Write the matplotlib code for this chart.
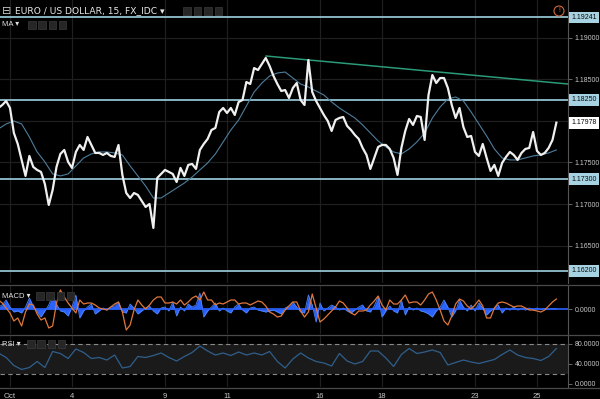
"""
EUR/USD 15 min - grafico estilo TradingView (precio, MA, MACD, RSI)
"""

import numpy as np
import matplotlib
matplotlib.use('Agg')
import matplotlib.pyplot as plt
from matplotlib.lines import Line2D
from matplotlib.patches import Rectangle, Ellipse

# ---- datos ----
# precio de cierre cada 3 horas (1/8 de dia habil), desde el 2 de octubre
price = [
    1.18154, 1.18190, 1.18238, 1.18154, 1.17854, 1.17722, 1.17530, 1.17338, 1.17578, 1.17446,
    1.17410, 1.17386, 1.17241, 1.16989, 1.17169, 1.17446, 1.17602, 1.17650, 1.17506, 1.17434,
    1.17626, 1.17710, 1.17650, 1.17806, 1.17710, 1.17614, 1.17614, 1.17590, 1.17614, 1.17578,
    1.17566, 1.17710, 1.17350, 1.17133, 1.17073, 1.17133, 1.17110, 1.17037, 1.16965, 1.17001,
    1.16713, 1.17314, 1.17362, 1.17410, 1.17386, 1.17362, 1.17265, 1.17434, 1.17338, 1.17470,
    1.17482, 1.17422, 1.17650, 1.17722, 1.17782, 1.17890, 1.17914, 1.18106, 1.18154, 1.18094,
    1.18154, 1.18070, 1.18226, 1.18250, 1.18466, 1.18442, 1.18634, 1.18610, 1.18682, 1.18755,
    1.18658, 1.18538, 1.18442, 1.18358, 1.18370, 1.18274, 1.18394, 1.18454, 1.18250, 1.18190,
    1.18730, 1.18346, 1.18238, 1.18154, 1.18070, 1.17998, 1.17878, 1.18010, 1.18034, 1.18046,
    1.17938, 1.17890, 1.17830, 1.17782, 1.17674, 1.17590, 1.17422, 1.17554, 1.17686, 1.17710,
    1.17710, 1.17662, 1.17554, 1.17350, 1.17674, 1.17878, 1.18022, 1.17950, 1.18058, 1.18046,
    1.17770, 1.18310, 1.18550, 1.18454, 1.18514, 1.18514, 1.18394, 1.18190, 1.18034, 1.18154,
    1.17926, 1.17806, 1.17818, 1.17626, 1.17578, 1.17722, 1.17554, 1.17398, 1.17470, 1.17338,
    1.17494, 1.17566, 1.17626, 1.17590, 1.17530, 1.17614, 1.17662, 1.17674, 1.17866, 1.17638,
    1.17590, 1.17614, 1.17674, 1.17770, 1.17978,
]

# media movil cada 6 horas (1/4 de dia)
ma = [
    1.17902, 1.17962, 1.17998, 1.17962, 1.17806, 1.17626, 1.17506, 1.17362, 1.17338, 1.17362,
    1.17458, 1.17554, 1.17602, 1.17626, 1.17626, 1.17614, 1.17590, 1.17458, 1.17338, 1.17217,
    1.17073, 1.17073, 1.17133, 1.17193, 1.17253, 1.17325, 1.17410, 1.17494, 1.17602, 1.17746,
    1.17890, 1.18010, 1.18178, 1.18346, 1.18454, 1.18538, 1.18574, 1.18586, 1.18514, 1.18442,
    1.18406, 1.18358, 1.18310, 1.18226, 1.18154, 1.18094, 1.18034, 1.17950, 1.17854, 1.17758,
    1.17686, 1.17626, 1.17602, 1.17662, 1.17746, 1.17854, 1.18034, 1.18166, 1.18262, 1.18286,
    1.18238, 1.18106, 1.17962, 1.17818, 1.17662, 1.17554, 1.17530, 1.17530, 1.17554, 1.17578,
    1.17590, 1.17614, 1.17650,
]

# MACD (en pips), misma frecuencia que el precio
macd_signal = [
    4.5, 3.0, 0.5, -2.0, -6.0, -4.5, -8.5, -1.5, 2.5, 2.0,
    -2.5, -5.5, -4.5, -9.5, -8.5, 3.0, 9.5, 6.0, 3.0, 0.5,
    -2.0, 4.5, 2.5, 3.0, 3.0, 2.0, 0.5, 0.0, -0.5, 1.0,
    2.5, 3.5, -1.5, -10.5, -8.0, -0.5, 4.5, 2.0, 0.0, 2.0,
    4.5, 6.0, 6.0, 3.0, 3.0, 3.5, 2.5, 4.5, 2.0, 3.5,
    5.5, 6.5, 4.5, 8.5, 4.5, 4.5, 2.0, 3.0, 2.5, 3.5,
    4.5, 4.5, 2.5, 3.0, 3.0, 2.0, 3.0, 4.0, 3.5, 1.5,
    -1.5, -2.5, -4.0, -3.5, -0.5, 1.5, 3.5, 3.5, -1.0, -4.0,
    -1.5, 7.5, 0.5, -6.5, -5.0, -3.0, -1.0, 1.0, 4.0, 3.0,
    0.5, -2.0, -3.0, -1.0, -1.0, -0.5, 2.0, 4.0, 6.5, 2.0,
    -0.5, 4.5, 2.5, 2.5, 4.5, 7.0, 3.0, 3.5, 3.5, 2.0,
    4.5, 7.5, 8.5, 4.5, -0.5, -6.0, -8.0, -3.5, 2.5, 5.0,
    4.0, 1.5, 0.0, 2.0, 4.5, 1.5, -4.5, -4.5, 0.5, 3.0,
    3.5, 3.0, 2.0, 1.0, 1.5, 1.5, 0.5, -0.5, -0.5, -1.0,
    -1.5, -0.5, 1.5, 3.5, 5.0,
]
macd_hist = [
    1.0, 2.0, 4.5, 1.0, -1.5, -1.0, -2.0, 1.0, 5.5, 1.5,
    -1.5, -4.0, -1.0, 2.0, 7.0, 2.5, -1.0, -1.5, -3.5, 1.0,
    7.0, -4.5, -1.0, 1.0, 2.5, -2.5, -1.0, 0.5, -0.5, 1.0,
    1.5, 3.5, -1.5, -2.0, 2.5, 0.5, -2.5, -1.0, 0.5, 1.5,
    -1.0, -2.5, 0.5, 1.0, -1.0, 3.5, -3.5, 1.0, -1.0, 2.5,
    1.0, 2.0, 8.0, -4.0, -1.0, 1.0, 3.0, -1.0, 0.5, -1.0,
    -2.0, 1.0, 2.5, -0.5, -2.0, 0.5, 1.0, -0.5, -1.0, -1.5,
    -1.0, -0.5, -1.5, -2.5, 0.5, 1.5, 3.5, 1.0, -1.5, -2.0,
    7.0, 2.0, -6.5, 3.0, -1.0, 0.5, 2.0, 1.0, -0.5, 0.5,
    -1.0, -2.0, -0.5, 1.0, 2.0, -1.0, -1.5, 1.5, 6.0, -4.0,
    -1.0, 1.5, -1.0, -2.0, 4.5, -3.0, 1.0, -0.5, 0.5, -1.0,
    -1.5, -2.5, -4.0, -1.0, 1.0, 4.5, 1.0, -4.0, -1.0, 4.5,
    1.0, -1.0, 2.0, -1.0, 3.0, 0.5, -3.0, -1.0, 0.5, 2.0,
    -2.0, 0.5, -0.5, 1.0, -0.5, 0.5, -0.5, 0.5, -0.5, 0.5,
    -0.3, 0.3, -0.3, 0.3, 0.3,
]

# RSI cada 6 horas
rsi = [
    62, 53, 37, 29, 33, 45, 33, 65, 61, 51,
    70, 63, 51, 53, 48, 58, 32, 35, 55, 53,
    57, 62, 53, 46, 55, 63, 76, 66, 58, 62,
    57, 64, 58, 62, 58, 65, 45, 32, 50, 62,
    52, 45, 42, 36, 61, 46, 40, 45, 66, 66,
    52, 35, 59, 71, 61, 64, 68, 63, 38, 43,
    48, 44, 41, 45, 49, 59, 68, 58, 53, 51,
    47, 55, 71,
]

levels = [1.19241, 1.18250, 1.17300, 1.16200]
last_price = 1.17978
trend_t = [8.26, 18.0]
trend_p = [1.18778, 1.18442]

day_ticks = [0, 2, 5, 7, 10, 12, 15, 17]
day_labels = ['Oct', '4', '9', '11', '16', '18', '23', '25']
price_ticks = [1.165, 1.170, 1.175, 1.180, 1.185, 1.190]

# tiempo en dias habiles (0 = 2 de octubre)
t_fine = -0.375 + np.arange(len(price)) / 8
t_coarse = -0.375 + np.arange(len(ma)) / 4

# ---- estilo ----
BG = '#000000'
GRID = '#1f1f1f'
TXT = '#c8c8c8'
LEVEL = '#93c1d1'
FONT = ['Liberation Sans', 'DejaVu Sans']
plt.rcParams['font.family'] = FONT

W, H = 600, 399


def fx(px):
    return px / W


def fy(py):
    return 1 - py / H


fig = plt.figure(figsize=(6, 3.99), dpi=100, facecolor=BG)
ax = fig.add_axes([0, fy(283), fx(568), 283 / H])
ax_m = fig.add_axes([0, fy(334), fx(568), 49 / H])
ax_r = fig.add_axes([0, fy(387), fx(568), 51 / H])

xlim = (-0.3226, 18.0)
for a in (ax, ax_m, ax_r):
    a.set_facecolor(BG)
    a.set_xlim(*xlim)
    for s in ('top', 'left', 'bottom'):
        a.spines[s].set_visible(False)
    a.spines['right'].set_color('#555555')
    a.spines['right'].set_linewidth(0.8)
    a.set_xticks(day_ticks)
    a.tick_params(axis='x', length=0, labelbottom=False)
    a.grid(axis='x', color=GRID, lw=0.9)
    a.yaxis.tick_right()
    a.tick_params(axis='y', colors='#777777', labelcolor=TXT, labelsize=5,
                  length=3, width=0.6, pad=2)
    a.set_axisbelow(True)

# ---- panel de precio ----
ax.set_ylim(1.16052, 1.19451)
ax.set_yticks(price_ticks)
# la etiqueta 1.18000 queda tapada por la del ultimo precio
ax.set_yticklabels(['' if abs(v - 1.18) < 1e-9 else f'{v:.5f}' for v in price_ticks])
ax.grid(axis='y', color=GRID, lw=0.9)

for lv in levels:
    ax.axhline(lv, color=LEVEL, lw=1.3, zorder=3)
    ax.text(1 + 3 / 568, lv, f'{lv:.5f}', transform=ax.get_yaxis_transform(),
            ha='left', va='center', fontsize=5, color='#0a0a0a', zorder=10,
            clip_on=False,
            bbox=dict(boxstyle='square,pad=0.35', fc='#a6d2e2', ec='none'))
ax.text(1 + 3 / 568, last_price, f'{last_price:.5f}', transform=ax.get_yaxis_transform(),
        ha='left', va='center', fontsize=5, color='#0a0a0a', zorder=10, clip_on=False,
        bbox=dict(boxstyle='square,pad=0.35', fc='#ffffff', ec='none'))

ax.plot(trend_t, trend_p, color='#2a9a78', lw=1.1, zorder=4)
ax.plot(t_coarse, ma, color='#4d7d9c', lw=0.8, zorder=4)
ax.plot(t_fine, price, color='#f0f0f0', lw=1.6, zorder=5)

# ---- MACD ----
ax_m.set_ylim(-12.5, 12)
ax_m.set_yticks([0])
ax_m.set_yticklabels(['0.0000'])
ax_m.fill_between(t_fine, 0, macd_hist, color='#2962ff', lw=0, zorder=3)
ax_m.plot(t_fine, macd_hist, color='#4f86f7', lw=0.6, zorder=3)
ax_m.axhline(0, color='#2962ff', lw=1.2, zorder=3)
ax_m.plot(t_fine, macd_signal, color='#e0773a', lw=0.9, zorder=4)

# ---- RSI ----
ax_r.set_ylim(-6, 96)
ax_r.set_yticks([0, 40, 80])
ax_r.set_yticklabels(['0.0000', '40.0000', '80.0000'])
ax_r.axhspan(20, 80, color='#1a1a1a', lw=0, zorder=1)
for lv in (20, 80):
    ax_r.axhline(lv, color='#8a8a8a', lw=0.8, dashes=(4, 3), zorder=2)
ax_r.plot(t_coarse, rsi, color='#2f5f8c', lw=0.9, zorder=3)
ax_r.tick_params(axis='x', labelbottom=True, labelsize=5.5, labelcolor=TXT, pad=4)
ax_r.set_xticklabels(day_labels)

# separadores de paneles
for py in (284.5, 335, 387.5):
    fig.add_artist(Line2D([0, 1], [fy(py), fy(py)], color='#4a4a4a', lw=0.9))

# ---- cabecera y etiquetas ----
fig.text(fx(2), fy(11), '\u229f', color=TXT, fontsize=8, va='center', ha='left',
         family=['DejaVu Sans'])
fig.text(fx(15), fy(11), 'EURO / US DOLLAR, 15, FX_IDC \u25be', color='#e6e6e6',
         fontsize=6.6, va='center', ha='left', family=['DejaVu Sans'])


def icon_boxes(x0, ycen, n=4, w=7.5, h=7.5, step=10.3):
    for i in range(n):
        fig.add_artist(Rectangle((fx(x0 + i * step), fy(ycen + h / 2)), w / W, h / H,
                                 fc='#262626', ec='#3a3a3a', lw=0.5))


icon_boxes(183, 11, w=8, h=8.5, step=10.5)
fig.text(fx(2), fy(25), 'MA \u25be', color='#e0e0e0', fontsize=5.5, va='center', ha='left')
icon_boxes(28, 25)
fig.text(fx(2), fy(296), 'MACD \u25be', color='#e0e0e0', fontsize=5.5, va='center', ha='left')
icon_boxes(36, 296)
fig.text(fx(2), fy(344), 'RSI \u25be', color='#e0e0e0', fontsize=5.5, va='center', ha='left')
icon_boxes(27, 344)

# alerta
fig.add_artist(Ellipse((fx(559), fy(11)), 10 / W, 10 / H, fc='none', ec='#d2693a', lw=0.8))
fig.text(fx(559), fy(11), '!', color='#d2693a', fontsize=5, ha='center', va='center')

plt.savefig('out.png', dpi=100, facecolor=BG)
plt.close()
